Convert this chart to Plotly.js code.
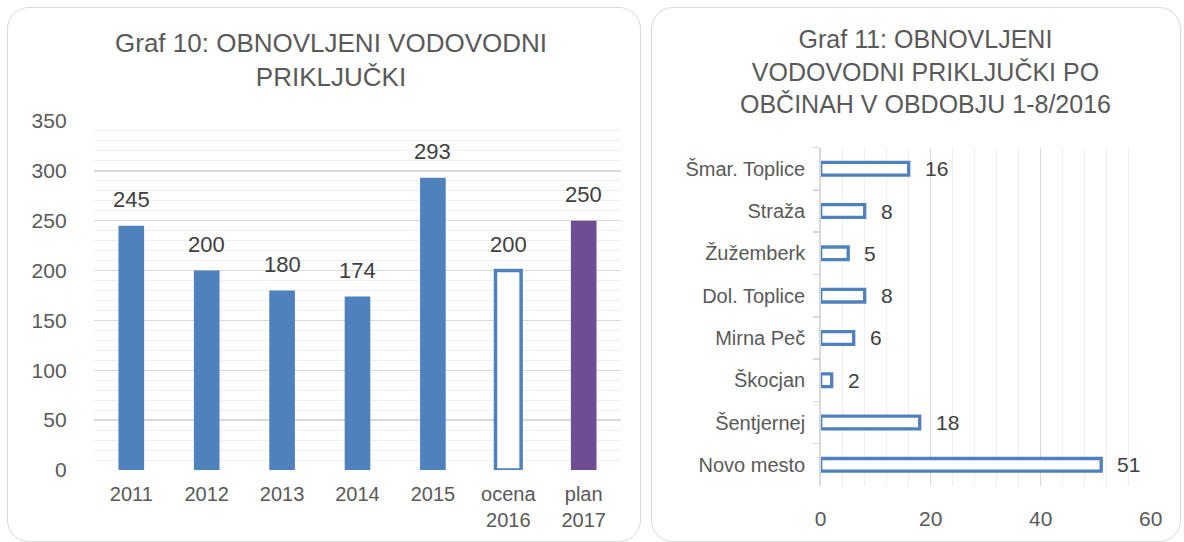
<!DOCTYPE html>
<html><head><meta charset="utf-8">
<script src="https://cdn.plot.ly/plotly-3.0.1.min.js"></script>
<style>
body{margin:0;background:#fff;}
#wrap{position:relative;width:1184px;height:542px;overflow:hidden}
.panel{position:absolute;border:1.5px solid #d9d9d9;border-radius:22px;box-sizing:border-box}
#chart{position:absolute;left:0;top:0;width:1184px;height:542px}
</style></head><body>
<div id="wrap">
<div class="panel" style="left:7px;top:7px;width:634px;height:535px"></div>
<div class="panel" style="left:651px;top:7px;width:530px;height:535px"></div>
<div id="chart"></div></div>
<script>
// Graf 10 data
const years = ['2011','2012','2013','2014','2015','ocena<br>2016','plan<br>2017'];
const values = [245,200,180,174,293,200,250];
// Graf 11 data
const municipalities = ['Šmar. Toplice','Straža','Žužemberk','Dol. Toplice','Mirna Peč','Škocjan','Šentjernej','Novo mesto'];
const counts = [16,8,5,8,6,2,18,51];

const title10 = 'Graf 10: OBNOVLJENI VODOVODNI<br>PRIKLJUČKI';
const title11 = 'Graf 11: OBNOVLJENI<br>VODOVODNI PRIKLJUČKI PO<br>OBČINAH V OBDOBJU 1-8/2016';

const blue = '#4f81bd';
const barColors = years.map((y,i)=> i===5 ? '#ffffff' : (i===6 ? '#6d4d93' : blue));
const barLines = years.map((y,i)=> i===5 ? 3.5 : 0);

const W=1184, H=542;
const font = {family:'"Liberation Sans", Arial, sans-serif', color:'#595959'};

const traces = [
  {type:'bar', x:years, y:values, xaxis:'x', yaxis:'y', width:0.34,
   marker:{color:barColors, line:{color:blue, width:barLines}}},
  {type:'bar', orientation:'h', x:counts, y:municipalities, xaxis:'x2', yaxis:'y2', width:0.3,
   marker:{color:'#ffffff', line:{color:blue, width:3.3}}}
];

const annotations = [];
// category index used for x so numeric-looking year labels are not read as positions
years.forEach((y,i)=>annotations.push({xref:'x', yref:'y', x:i, y:values[i], text:String(values[i]),
  showarrow:false, yanchor:'bottom', yshift:12, font:{size:22, color:'#404040', family:font.family}}));
municipalities.forEach((m,i)=>annotations.push({xref:'x2', yref:'y2', x:counts[i], y:i, text:String(counts[i]),
  showarrow:false, xanchor:'left', xshift:14, font:{size:21, color:'#404040', family:font.family}}));
annotations.push({xref:'paper', yref:'paper', x:331/W, y:1-60/H, xanchor:'center', yanchor:'middle',
  text:title10, showarrow:false, font:{size:26, color:'#595959', family:font.family}});
annotations.push({xref:'paper', yref:'paper', x:925/W, y:1-72/H, xanchor:'center', yanchor:'middle',
  text:title11, showarrow:false, font:{size:25, color:'#595959', family:font.family}});

const layout = {
  width:W, height:H, margin:{l:0,r:0,t:0,b:0},
  paper_bgcolor:'rgba(0,0,0,0)', plot_bgcolor:'rgba(0,0,0,0)',
  showlegend:false, hovermode:false, font:font, bargap:0,
  xaxis:{domain:[93.6/W, 621.4/W], type:'category', range:[-0.5, years.length-0.5], showgrid:false, ticks:'', showline:false,
    tickfont:{size:20, color:'#595959'}, ticklabelstandoff:10, fixedrange:true},
  yaxis:{domain:[1-470/H, 1-121/H], range:[0,350], dtick:50, gridcolor:'#d9d9d9', gridwidth:1.3,
    minor:{dtick:10, showgrid:true, gridcolor:'#f0f0f0', gridwidth:1},
    zeroline:false, tickfont:{size:21, color:'#595959'}, ticklabelstandoff:26, fixedrange:true},
  xaxis2:{anchor:'y2', domain:[820.7/W, 1150.7/W], range:[0,60], dtick:20, gridcolor:'#d9d9d9', gridwidth:1.3,
    minor:{dtick:4, showgrid:true, gridcolor:'#efefef', gridwidth:1},
    zeroline:false, tickfont:{size:21, color:'#595959'}, ticklabelstandoff:18, fixedrange:true},
  yaxis2:{anchor:'x2', domain:[1-486/H, 1-147.6/H], type:'category', autorange:'reversed',
    showgrid:false, showline:true, linecolor:'#d9d9d9', linewidth:1.5,
    ticks:'outside', tickson:'boundaries', ticklen:6, tickcolor:'#d9d9d9', tickwidth:1.5,
    tickfont:{size:20, color:'#595959'}, ticklabelstandoff:10, fixedrange:true},
  annotations:annotations
};
Plotly.newPlot('chart', traces, layout, {staticPlot:true, displayModeBar:false});
</script>
</body></html>
